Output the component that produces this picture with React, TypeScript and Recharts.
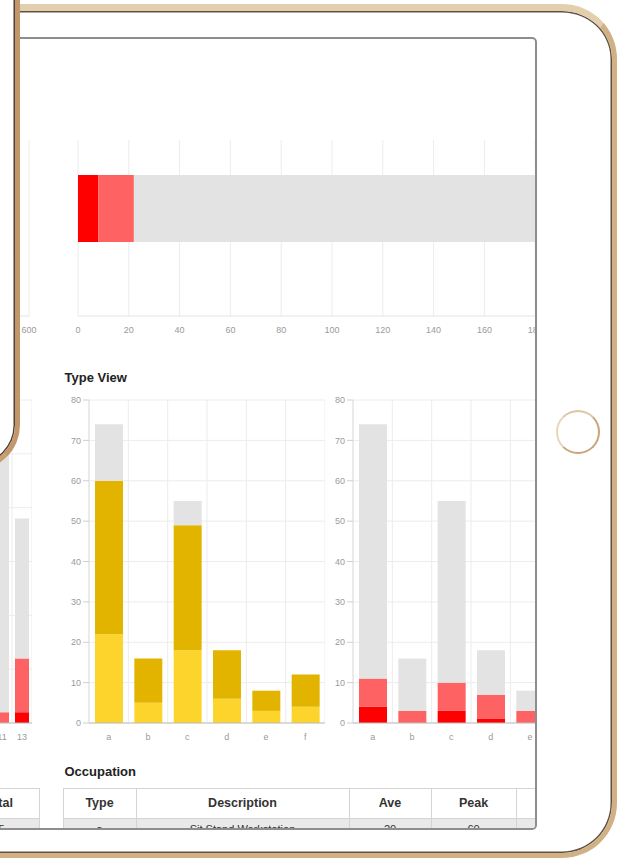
import { BarChart, Bar, XAxis, YAxis, CartesianGrid } from "recharts";

// top row: site totals (horizontal)
const siteCats = ["Site"];
const siteDeep = [8];
const siteLight = [14];
const siteRest = [178];
const siteTicks = [0, 20, 40, 60, 80, 100, 120, 140, 160, 180, 200];

// top row, left panel (only its end of axis is visible)
const floorCats = ["Floor"];
const floorDeep = [40];
const floorLight = [90];
const floorRest = [300];
const floorTicks = [0, 100, 200, 300, 400, 500, 600];

// Type View
const typeCats = ["a", "b", "c", "d", "e", "f"];
const yellowLow = [22, 5, 18, 6, 3, 4];
const yellowHigh = [38, 11, 31, 12, 5, 8];
const yellowRest = [14, 0, 6, 0, 0, 0];

const redDeep = [4, 0, 3, 1, 0, 0];
const redLight = [7, 3, 7, 6, 3, 2];
const redRest = [63, 13, 45, 11, 5, 10];
const typeTicks = [0, 10, 20, 30, 40, 50, 60, 70, 80];

// left panel of the lower row (two last categories visible)
const hourCats = ["11", "13"];
const hourDeep = [0, 1];
const hourLight = [1, 5];
const hourRest = [27, 13];
const hourTicks = [0, 5, 10, 15, 20, 25, 30];

// Occupation table
const occHeaders = ["Type", "Description", "Ave", "Peak", ""];
const occRow = ["a", "Sit Stand Workstation", "20", "60", ""];
const occWidths = [72, 212, 81, 84, 100];

const DEEP = "#ff0000";
const LIGHT_RED = "#ff6262";
const GREY = "#e3e3e3";
const Y_LIGHT = "#fdd42c";
const Y_DARK = "#e2b400";
const GRID = "#ececec";
const AXIS = "#cfcfcf";
const FONT = "'Liberation Sans', Arial, sans-serif";
const tickStyle = { fill: "#9a9a9a", fontSize: 9, fontFamily: FONT };

const stack = (cats: string[], a: number[], b: number[], c: number[]) =>
  cats.map((name, i) => ({ name, a: a[i], b: b[i], c: c[i] }));

const bandLines = (n: number) => ({ offset }: any) =>
  Array.from({ length: n + 1 }, (_, i) => offset.left + (i * offset.width) / n);

function HBar({ data, ticks, max, colors, left, width, right = 0 }: any) {
  return (
    <div style={{ position: "absolute", left, top: 135 }}>
      <BarChart
        width={width}
        height={211}
        data={data}
        layout="vertical"
        margin={{ top: 5, right, bottom: 0, left: 8 }}
      >
        <CartesianGrid stroke={GRID} horizontal={false} />
        <XAxis
          type="number"
          domain={[0, max]}
          ticks={ticks}
          interval={0}
          height={30}
          tick={tickStyle}
          tickLine={false}
          tickMargin={5}
          axisLine={{ stroke: "#e4e4e4" }}
        />
        <YAxis
          type="category"
          dataKey="name"
          width={30}
          tick={false}
          tickLine={{ stroke: "#dddddd" }}
          axisLine={false}
          padding={{ top: 0, bottom: 39 }}
        />
        <Bar dataKey="a" stackId="s" fill={colors[0]} barSize={67} isAnimationActive={false} />
        <Bar dataKey="b" stackId="s" fill={colors[1]} barSize={67} isAnimationActive={false} />
        <Bar dataKey="c" stackId="s" fill={colors[2]} barSize={67} isAnimationActive={false} />
      </BarChart>
    </div>
  );
}

function VBar({ data, ticks, max, colors, left, width, barSize }: any) {
  return (
    <div style={{ position: "absolute", left, top: 395 }}>
      <BarChart
        width={width}
        height={358}
        data={data}
        margin={{ top: 5, right: 0, bottom: 0, left: 4 }}
      >
        <CartesianGrid stroke={GRID} verticalCoordinatesGenerator={bandLines(data.length)} />
        <XAxis
          dataKey="name"
          height={30}
          tick={tickStyle}
          tickLine={false}
          tickMargin={5}
          interval={0}
          axisLine={{ stroke: "#bdbdbd" }}
        />
        <YAxis
          domain={[0, max]}
          ticks={ticks}
          interval={0}
          width={30}
          tick={tickStyle}
          tickLine={{ stroke: AXIS }}
          axisLine={{ stroke: "#e0e0e0" }}
        />
        <Bar dataKey="a" stackId="s" fill={colors[0]} barSize={barSize} isAnimationActive={false} />
        <Bar dataKey="b" stackId="s" fill={colors[1]} barSize={barSize} isAnimationActive={false} />
        <Bar dataKey="c" stackId="s" fill={colors[2]} barSize={barSize} isAnimationActive={false} />
      </BarChart>
    </div>
  );
}

const titleStyle: any = {
  position: "absolute",
  left: 65,
  fontFamily: FONT,
  fontWeight: "bold",
  fontSize: 13,
  color: "#222",
  whiteSpace: "nowrap",
};

function Table({ left, headers, row, widths }: any) {
  const cell: any = {
    border: "1px solid #d4d4d4",
    textAlign: "center",
    padding: 0,
    overflow: "hidden",
    whiteSpace: "nowrap",
  };
  return (
    <table
      style={{
        position: "absolute",
        left,
        top: 788,
        borderCollapse: "collapse",
        tableLayout: "fixed",
        fontFamily: FONT,
        color: "#333",
      }}
    >
      <tbody>
        <tr style={{ height: 30 }}>
          {headers.map((h: string, i: number) => (
            <th key={i} style={{ ...cell, width: widths[i], fontSize: 12.5, fontWeight: "bold" }}>
              {h}
            </th>
          ))}
        </tr>
        <tr style={{ height: 22, background: "#e9e9e9" }}>
          {row.map((v: string, i: number) => (
            <td key={i} style={{ ...cell, fontSize: 11, verticalAlign: "top", paddingTop: 4 }}>
              {v}
            </td>
          ))}
        </tr>
      </tbody>
    </table>
  );
}

const gold = "#d2b085";

export default function App() {
  return (
    <div
      style={{
        position: "absolute",
        left: 0,
        top: 0,
        width: 618,
        height: 861,
        overflow: "hidden",
        background: "#fff",
      }}
    >
      {/* tablet body */}
      <div
        style={{
          position: "absolute",
          left: -300,
          top: 4,
          width: 917,
          height: 854,
          boxSizing: "border-box",
          border: `5px solid ${gold}`,
          borderTopWidth: 7,
          borderTopColor: "#e4cfac",
          borderRadius: 55,
          boxShadow: "inset 0 0 0 1.5px #5e5246",
          background: "#fff",
        }}
      />
      {/* home button */}
      <div
        style={{
          position: "absolute",
          left: 556,
          top: 410,
          width: 44,
          height: 44,
          boxSizing: "border-box",
          borderRadius: "50%",
          border: "2.5px solid #c9a57a",
          borderTopColor: "#dcc6a4",
          borderLeftColor: "#e6d6bd",
        }}
      />
      {/* screen */}
      <div
        style={{
          position: "absolute",
          left: -20,
          top: 37,
          width: 557,
          height: 793,
          boxSizing: "border-box",
          border: "2.5px solid #8d8d8d",
          borderRadius: 5,
          overflow: "hidden",
          background: "#fff",
        }}
      >
        <div style={{ position: "absolute", left: 17.5, top: -39.5, width: 618, height: 861 }}>
          <HBar
            data={stack(floorCats, floorDeep, floorLight, floorRest)}
            ticks={floorTicks}
            max={600}
            colors={[DEEP, LIGHT_RED, GREY]}
            left={-360}
            width={401}
            right={12}
          />
          <HBar
            data={stack(siteCats, siteDeep, siteLight, siteRest)}
            ticks={siteTicks}
            max={200}
            colors={[DEEP, LIGHT_RED, GREY]}
            left={40}
            width={546}
          />

          <div style={{ ...titleStyle, top: 370 }}>Type View</div>

          <VBar
            data={stack(hourCats, hourDeep, hourLight, hourRest)}
            ticks={hourTicks}
            max={30}
            colors={[DEEP, LIGHT_RED, GREY]}
            left={-42}
            width={74}
            barSize={14}
          />
          <VBar
            data={stack(typeCats, yellowLow, yellowHigh, yellowRest)}
            ticks={typeTicks}
            max={80}
            colors={[Y_LIGHT, Y_DARK, GREY]}
            left={55}
            width={270}
            barSize={28}
          />
          <VBar
            data={stack(typeCats, redDeep, redLight, redRest)}
            ticks={typeTicks}
            max={80}
            colors={[DEEP, LIGHT_RED, GREY]}
            left={319}
            width={270}
            barSize={28}
          />

          <div style={{ ...titleStyle, top: 764 }}>Occupation</div>
          <Table left={-42} headers={["Total"]} row={["25"]} widths={[80]} />
          <Table left={63} headers={occHeaders} row={occRow} widths={occWidths} />
        </div>
      </div>
      {/* second device overlapping top-left */}
      <div
        style={{
          position: "absolute",
          left: -400,
          top: -100,
          width: 420,
          height: 570,
          boxSizing: "border-box",
          border: "5px solid #c99e6c",
          borderRightColor: "#c4976a",
          borderRadius: 45,
          boxShadow: "inset 0 0 0 1.5px #4e4238",
          background: "#fff",
        }}
      />
    </div>
  );
}
